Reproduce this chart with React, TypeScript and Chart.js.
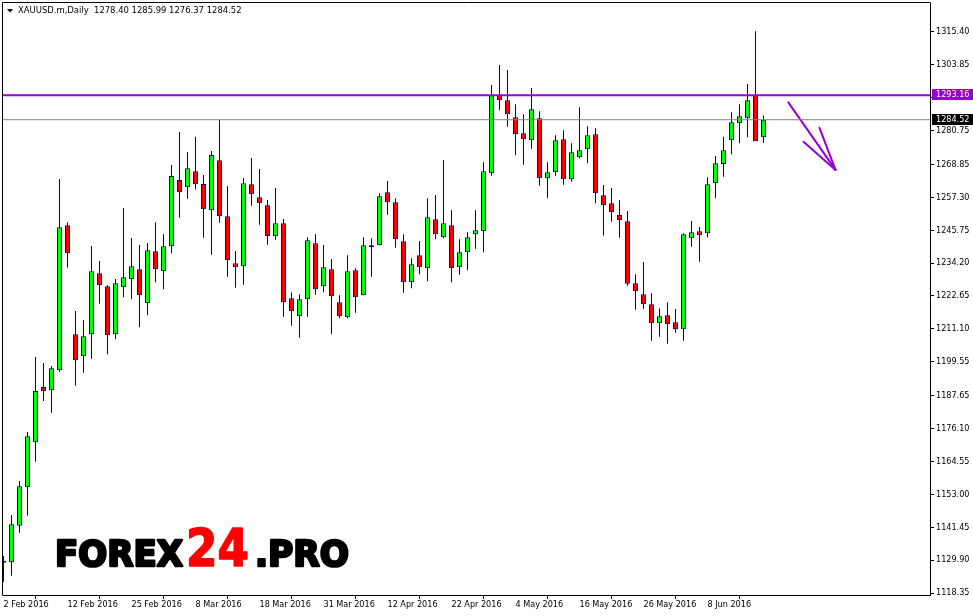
import React, { useEffect, useRef } from 'react';
import { Chart, registerables } from 'chart.js';

Chart.register(...registerables);

// ---------- data ----------
const symbolTitle = 'XAUUSD.m,Daily';

const dateLabels = [
  '2 Feb 2016', '12 Feb 2016', '25 Feb 2016', '8 Mar 2016', '18 Mar 2016', '31 Mar 2016',
  '12 Apr 2016', '22 Apr 2016', '4 May 2016', '16 May 2016', '26 May 2016', '8 Jun 2016',
];
const dateTickIndex = [0, 8, 16, 24, 32, 40, 48, 56, 64, 72, 80, 88];

const priceTicks = [
  '1118.35', '1129.90', '1141.45', '1153.00', '1164.55', '1176.10', '1187.65', '1199.55',
  '1211.10', '1222.65', '1234.20', '1245.75', '1257.30', '1268.85', '1280.75', '1292.30',
  '1303.85', '1315.40',
];

const opens = [
  1129.3, 1129.13, 1141.98, 1155.46, 1171.26, 1190.68, 1189.52, 1196.55, 1247.46, 1209.19,
  1201.46, 1209.19, 1230.6, 1226.04, 1209.19, 1225.69, 1228.5, 1232.01, 1220.07, 1238.33,
  1231.31, 1240.08, 1263.37, 1260.8, 1266.42, 1261.96, 1252.72, 1270.28, 1250.61, 1234.12,
  1233.06, 1261.85, 1257.29, 1254.48, 1243.6, 1248.16, 1221.83, 1215.51, 1221.48, 1241.14,
  1226.04, 1232.01, 1220.42, 1215.15, 1231.66, 1222.88, 1239.73, 1240.44, 1259.04, 1255.53,
  1241.84, 1227.44, 1236.92, 1232.36, 1249.56, 1243.25, 1247.46, 1232.71, 1237.98, 1244.3,
  1245.35, 1265.72, 1293.1, 1291.35, 1285.38, 1279.76, 1277.3, 1285.03, 1263.96, 1266.07,
  1277.66, 1263.61, 1271.33, 1274.14, 1279.41, 1257.99, 1255.18, 1251.07, 1248.86, 1227.09,
  1223.23, 1219.72, 1213.05, 1215.86, 1213.4, 1210.94, 1242.9, 1245.35, 1244.65, 1262.2,
  1268.98, 1277.3, 1283.27, 1285.03, 1293.1, 1278.4,
];
const highs = [
  1131.3, 1145.74, 1157.68, 1174.88, 1201.22, 1199.11, 1198.05, 1263.72, 1248.51, 1217.37,
  1214.21, 1240.19, 1234.92, 1226.39, 1228.6, 1253.53, 1243.0, 1240.54, 1241.24, 1248.51,
  1244.4, 1268.63, 1280.22, 1273.2, 1278.57, 1265.12, 1273.55, 1284.43, 1261.26, 1238.43,
  1264.07, 1271.1, 1267.23, 1256.34, 1260.55, 1249.67, 1223.93, 1223.23, 1243.25, 1244.4,
  1240.54, 1235.63, 1222.88, 1236.92, 1232.36, 1243.25, 1242.9, 1258.69, 1263.02, 1256.94,
  1244.3, 1235.87, 1241.95, 1256.94, 1258.1, 1270.38, 1252.83, 1242.54, 1245.0, 1252.83,
  1269.58, 1296.72, 1303.74, 1301.99, 1289.94, 1286.43, 1295.66, 1287.49, 1269.58, 1279.06,
  1280.82, 1276.25, 1288.89, 1282.22, 1281.52, 1261.61, 1260.55, 1256.34, 1252.48, 1230.25,
  1234.57, 1223.58, 1218.31, 1220.42, 1218.07, 1244.65, 1248.97, 1246.86, 1264.31, 1271.8,
  1278.57, 1287.14, 1289.94, 1297.07, 1315.58, 1285.99,
];
const lows = [
  1122.2, 1124.42, 1139.52, 1145.49, 1164.45, 1185.77, 1181.66, 1196.05, 1232.57, 1191.14,
  1195.7, 1200.62, 1219.93, 1202.16, 1207.43, 1222.18, 1221.48, 1211.64, 1215.86, 1227.44,
  1224.99, 1237.63, 1250.13, 1256.8, 1260.0, 1243.1, 1237.14, 1248.37, 1229.41, 1225.55,
  1226.6, 1254.35, 1247.67, 1240.65, 1242.4, 1215.37, 1212.2, 1208.0, 1215.37, 1223.09,
  1223.93, 1209.19, 1214.8, 1214.8, 1216.77, 1222.88, 1229.41, 1240.44, 1251.18, 1239.59,
  1223.79, 1225.34, 1230.25, 1227.79, 1242.54, 1242.9, 1227.44, 1230.11, 1231.66, 1239.24,
  1237.98, 1264.88, 1287.84, 1282.08, 1272.04, 1268.74, 1274.36, 1261.36, 1256.94, 1264.88,
  1261.71, 1262.77, 1270.98, 1269.23, 1255.18, 1243.8, 1248.72, 1243.1, 1226.25, 1217.82,
  1218.17, 1206.94, 1208.34, 1205.88, 1209.75, 1206.94, 1239.94, 1234.68, 1243.25, 1256.94,
  1264.52, 1272.39, 1276.25, 1278.36, 1276.95, 1276.37,
];
const closes = [
  1129.0, 1142.47, 1155.81, 1173.37, 1189.28, 1189.17, 1197.25, 1246.75, 1237.63, 1200.06,
  1208.48, 1231.31, 1226.39, 1208.83, 1227.09, 1229.2, 1233.06, 1222.88, 1238.68, 1232.01,
  1240.08, 1264.77, 1259.04, 1267.47, 1261.85, 1253.08, 1272.15, 1250.61, 1235.16, 1232.71,
  1262.2, 1258.34, 1255.18, 1243.6, 1248.16, 1220.42, 1217.26, 1221.48, 1242.19, 1224.99,
  1232.71, 1222.53, 1215.51, 1231.31, 1222.18, 1240.44, 1239.73, 1257.64, 1255.53, 1242.54,
  1227.44, 1233.76, 1232.71, 1250.27, 1244.3, 1248.16, 1232.36, 1237.98, 1243.25, 1245.7,
  1266.42, 1293.1, 1291.35, 1286.43, 1279.41, 1277.66, 1288.19, 1263.96, 1266.07, 1277.3,
  1263.61, 1273.09, 1273.79, 1279.06, 1258.69, 1254.48, 1252.02, 1249.21, 1226.95, 1224.28,
  1219.72, 1213.05, 1215.51, 1212.7, 1210.94, 1244.3, 1245.0, 1243.95, 1261.85, 1269.23,
  1273.79, 1283.62, 1285.73, 1291.35, 1276.95, 1284.52,
];

const resistanceLevel = 1293.16;
const bidLevel = 1284.52;

// hand-drawn arrow (bar index, price)
const arrowShaftX = [98.1, 104.0];
const arrowShaftY = [1290.6, 1266.9];
const arrowHeadAX = [102.0, 104.0];
const arrowHeadAY = [1281.7, 1266.9];
const arrowHeadBX = [100.0, 104.0];
const arrowHeadBY = [1276.8, 1266.9];

const watermarkParts = ['FOREX', '24', '.PRO'];

// ---------- styling ----------
const BULL = '#00ff00';
const BEAR = '#ff0000';
const WICK = '#000080';
const PURPLE = '#9400d3';
const FONT_FAMILY = '"DejaVu Sans Condensed", "Liberation Sans", sans-serif';
const X_MIN = -0.0625;
const X_MAX = X_MIN + 927 / 8;
const Y_MIN = 1117.648;
const Y_MAX = 1325.51;

const overlayPlugin = {
  id: 'mtOverlay',
  afterDraw(chart: any) {
    const { ctx, chartArea } = chart;
    const { left, top, right, bottom } = chartArea;
    const yScale = chart.scales.y;
    ctx.save();

    // frame (left + top)
    ctx.strokeStyle = '#000';
    ctx.lineWidth = 1;
    ctx.beginPath();
    ctx.moveTo(left - 0.5, bottom + 0.5);
    ctx.lineTo(left - 0.5, top - 0.5);
    ctx.lineTo(right + 0.5, top - 0.5);
    ctx.stroke();

    // header
    ctx.fillStyle = '#000';
    ctx.beginPath();
    ctx.moveTo(7, 9);
    ctx.lineTo(13, 9);
    ctx.lineTo(10, 12.5);
    ctx.closePath();
    ctx.fill();
    const n = opens.length - 1;
    const header = `${symbolTitle}  ${opens[n].toFixed(2)} ${highs[n].toFixed(2)} ${lows[n].toFixed(2)} ${closes[n].toFixed(2)}`;
    ctx.font = `9.4px ${FONT_FAMILY}`;
    ctx.textBaseline = 'middle';
    ctx.textAlign = 'left';
    ctx.fillText(header, 18, 11);

    // price labels on the right axis
    const priceBox = (val: number, bg: string) => {
      const py = yScale.getPixelForValue(val);
      const t = Math.round(py - 6);
      ctx.fillStyle = bg;
      ctx.fillRect(right + 2, t, chart.width - right - 2, 11);
      ctx.fillStyle = '#fff';
      ctx.font = `9px ${FONT_FAMILY}`;
      ctx.textBaseline = 'middle';
      ctx.fillText(val.toFixed(2), right + 6, t + 5.5);
    };
    priceBox(resistanceLevel, PURPLE);
    priceBox(bidLevel, '#000');

    // watermark
    const fitted = (text: string, font: string, x: number, w: number, base: number, color: string, weight: number) => {
      ctx.font = font;
      ctx.textBaseline = 'alphabetic';
      const m = ctx.measureText(text).width;
      ctx.save();
      ctx.translate(x, base);
      ctx.scale(w / m, 1);
      ctx.fillStyle = color;
      ctx.strokeStyle = color;
      ctx.lineWidth = weight;
      ctx.lineJoin = 'round';
      ctx.fillText(text, 0, 0);
      ctx.strokeText(text, 0, 0);
      ctx.restore();
    };
    fitted(watermarkParts[0], 'bold 36px "DejaVu Sans"', 55, 128, 566, '#000', 2.6);
    fitted(watermarkParts[1], 'bold 51px "DejaVu Sans"', 186, 63, 566, '#ff0000', 1.6);
    fitted(watermarkParts[2], 'bold 36px "DejaVu Sans"', 255, 94, 566, '#000', 2.6);

    ctx.restore();
  },
};

export default function App() {
  const canvasRef = useRef<HTMLCanvasElement | null>(null);

  useEffect(() => {
    const canvas = canvasRef.current;
    if (!canvas) return;

    const bodyData = opens.map((o, i) => ({ x: i, y: [o, closes[i]] }));
    const wickData = lows.map((l, i) => ({ x: i, y: [l, highs[i]] }));
    const bodyColors = opens.map((o, i) => (closes[i] >= o ? BULL : BEAR));
    const seg = (xs: number[], ys: number[]) => xs.map((x, i) => ({ x, y: ys[i] }));

    const font = { family: FONT_FAMILY, size: 9, lineHeight: 1.2 };

    const chart = new Chart(canvas, {
      type: 'bar',
      data: {
        datasets: [
          {
            type: 'line', label: 'Resistance',
            data: [{ x: X_MIN, y: resistanceLevel }, { x: X_MAX, y: resistanceLevel }],
            borderColor: PURPLE, borderWidth: 2, pointRadius: 0, order: 0, clip: 0,
          } as any,
          {
            type: 'line', label: 'Bid',
            data: [{ x: X_MIN, y: bidLevel }, { x: X_MAX, y: bidLevel }],
            borderColor: '#808080', borderWidth: 1, pointRadius: 0, order: 0, clip: 0,
          } as any,
          {
            type: 'line', label: 'Arrow', data: seg(arrowShaftX, arrowShaftY),
            borderColor: PURPLE, borderWidth: 2, pointRadius: 0, order: 0, borderCapStyle: 'round',
          } as any,
          {
            type: 'line', label: 'ArrowA', data: seg(arrowHeadAX, arrowHeadAY),
            borderColor: PURPLE, borderWidth: 2, pointRadius: 0, order: 0, borderCapStyle: 'round',
          } as any,
          {
            type: 'line', label: 'ArrowB', data: seg(arrowHeadBX, arrowHeadBY),
            borderColor: PURPLE, borderWidth: 2, pointRadius: 0, order: 0, borderCapStyle: 'round',
          } as any,
          {
            type: 'bar', label: 'Body', data: bodyData,
            backgroundColor: bodyColors, borderColor: WICK, borderWidth: 1, borderSkipped: false,
            barThickness: 5, grouped: false, minBarLength: 2, inflateAmount: 0, order: 1, clip: 0,
          } as any,
          {
            type: 'bar', label: 'Wick', data: wickData,
            backgroundColor: WICK, borderWidth: 0, barThickness: 1, grouped: false,
            inflateAmount: 0, order: 2, clip: 0,
          } as any,
        ],
      },
      options: {
        animation: false,
        responsive: false,
        devicePixelRatio: 1,
        events: [],
        layout: { padding: { left: 3, top: 3, right: 0, bottom: 0 } },
        plugins: { legend: { display: false }, tooltip: { enabled: false } },
        scales: {
          x: {
            type: 'linear', min: X_MIN, max: X_MAX, offset: false,
            grid: { drawOnChartArea: false, drawTicks: true, tickLength: 4, color: '#000', lineWidth: 1 },
            border: { display: true, color: '#000', width: 1 },
            ticks: {
              autoSkip: false, maxRotation: 0, minRotation: 0, align: 'start', padding: 0,
              color: '#000', font, callback: (_v: any, i: number) => dateLabels[i] ?? '',
            },
            afterBuildTicks: (s: any) => { s.ticks = dateTickIndex.map((v) => ({ value: v })); },
            afterFit: (s: any) => { s.height = 21; s.paddingLeft = 0; s.paddingRight = 0; },
          },
          y: {
            type: 'linear', position: 'right', min: Y_MIN, max: Y_MAX,
            grid: { drawOnChartArea: false, drawTicks: true, tickLength: 4, color: '#000', lineWidth: 1 },
            border: { display: true, color: '#000', width: 1 },
            ticks: {
              autoSkip: false, padding: 2, color: '#000', font,
              callback: (_v: any, i: number) => priceTicks[i] ?? '',
            },
            afterBuildTicks: (s: any) => { s.ticks = priceTicks.map((t) => ({ value: parseFloat(t) })); },
            afterFit: (s: any) => { s.width = 43; s.paddingTop = 0; s.paddingBottom = 0; },
          },
        },
      } as any,
      plugins: [overlayPlugin],
    });

    return () => chart.destroy();
  }, []);

  return (
    <div style={{ position: 'absolute', left: 0, top: 0, width: 973, height: 616, background: '#fff' }}>
      <canvas ref={canvasRef} width={973} height={616} style={{ display: 'block', width: 973, height: 616 }} />
    </div>
  );
}
